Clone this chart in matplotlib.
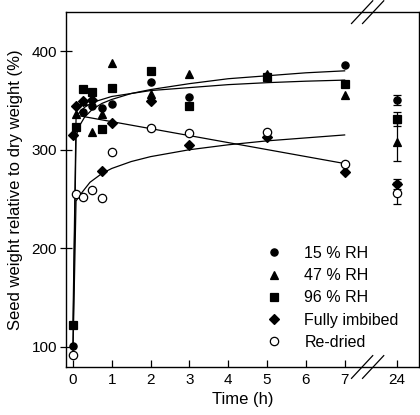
import matplotlib
matplotlib.use("Agg")
import matplotlib.pyplot as plt
from matplotlib.lines import Line2D

plt.rcParams["font.family"] = ["Liberation Sans", "DejaVu Sans"]

# where 24 h sits on the broken axis
X24 = 8.35

# measured points (h, % of dry weight)
t_15 = [0, 0.25, 0.5, 0.75, 1, 2, 3, 5, 7]
w_15 = [101, 338, 344, 342, 346, 369, 353, 375, 386]
t_47 = [0.08, 0.25, 0.5, 0.75, 1, 2, 3, 5, 7]
w_47 = [336, 349, 318, 336, 388, 357, 377, 377, 355]
t_96 = [0, 0.08, 0.25, 0.5, 0.75, 1, 2, 3, 5, 7]
w_96 = [122, 323, 362, 359, 321, 363, 380, 344, 374, 367]
t_imb = [0, 0.08, 0.25, 0.5, 0.75, 1, 2, 3, 5, 7]
w_imb = [315, 344, 349, 350, 278, 327, 349, 305, 313, 277]
t_red = [0, 0.08, 0.25, 0.5, 0.75, 1, 2, 3, 5, 7]
w_red = [92, 255, 252, 259, 251, 298, 322, 317, 318, 286]

# 24 h means and errors
m24 = [350, 308, 331, 265, 256]
e24 = [5, 19, 7, 5, 11]

# fitted curves
fit_t = [0, 0.08, 0.15, 0.3, 0.5, 0.75, 1, 1.5, 2, 3, 4, 5, 6, 7]
fit_a = [101, 313, 323, 333, 341, 347, 351, 357, 361, 367, 372, 375, 378, 380]
fit_b = [122, 331, 337, 343, 348, 351, 354, 357, 360, 363, 366, 368, 369.5, 370.6]
fit_c_t = [0.08, 7]
fit_c = [335, 286]
fit_d_t = [0, 0.08, 0.18, 0.3, 0.44, 0.75, 1, 1.5, 2, 3, 4, 5, 6, 7]
fit_d = [92, 248, 254, 260, 267, 276, 281, 288, 293, 300, 305, 309, 312, 315]

labels = ["15 % RH", "47 % RH", "96 % RH", "Fully imbibed", "Re-dried"]
markers = ["o", "^", "s", "D", "o"]
sizes = [5.2, 6.2, 5.2, 5, 6]
faces = ["black", "black", "black", "black", "white"]

fig = plt.figure(figsize=(4.2, 4.15), dpi=100)
ax = fig.add_axes([0.157, 0.1157, 0.841, 0.855])

for t, y in [(fit_t, fit_a), (fit_t, fit_b), (fit_c_t, fit_c), (fit_d_t, fit_d)]:
    ax.plot(t, y, color="black", lw=0.9, zorder=2)

series = [(t_15, w_15), (t_47, w_47), (t_96, w_96), (t_imb, w_imb), (t_red, w_red)]
for i, (t, w) in enumerate(series):
    ax.plot(t, w, ls="none", marker=markers[i], ms=sizes[i], mfc=faces[i],
            mec="black", mew=0.9, zorder=3)
    ax.errorbar([X24], [m24[i]], yerr=[e24[i]], fmt=markers[i], ms=sizes[i],
                mfc=faces[i], mec="black", mew=0.9, ecolor="black",
                elinewidth=0.9, capsize=3, capthick=0.9, zorder=3)

ax.set_xlim(-0.18, 8.92)
ax.set_ylim(79.7, 439.5)
ax.set_xticks([0, 1, 2, 3, 4, 5, 6, 7, X24])
ax.set_xticklabels(["0", "1", "2", "3", "4", "5", "6", "7", "24"])
ax.set_yticks([100, 200, 300, 400])
ax.tick_params(axis="x", direction="in", length=5, width=0.9, labelsize=11, pad=4)
ax.tick_params(axis="y", direction="inout", length=9, width=0.9, labelsize=11, pad=2)
for s in ax.spines.values():
    s.set_linewidth(1.0)

ax.set_xlabel("Time (h)", fontsize=12, labelpad=4)
ax.set_ylabel("Seed weight relative to dry weight (%)", fontsize=12, labelpad=6)

# axis break marks
for xc in (0.8385, 0.8697):
    for yc in (0.0, 1.0):
        ax.plot([xc - 0.03, xc + 0.03], [yc - 0.032, yc + 0.032], color="black",
                lw=0.9, transform=ax.transAxes, clip_on=False)

handles = [Line2D([], [], ls="none", marker=markers[i], ms=sizes[i], mfc=faces[i],
                  mec="black", mew=0.9) for i in range(5)]
ax.legend(handles, labels, loc="lower left", bbox_to_anchor=(0.535, 0.017),
          frameon=False, fontsize=11.5, handlelength=1.0, handletextpad=1.4,
          labelspacing=0.45, borderpad=0.2)

fig.savefig("out.png", dpi=100)
